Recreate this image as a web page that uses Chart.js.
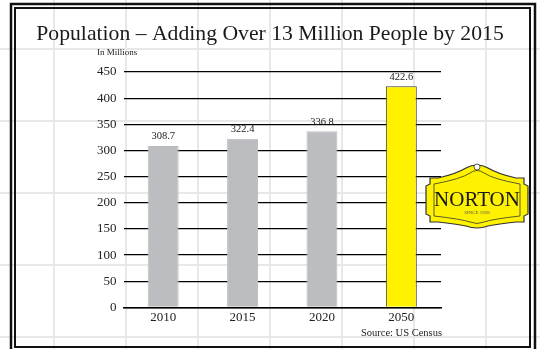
<!DOCTYPE html>
<html>
<head>
<meta charset="utf-8">
<script src="https://cdn.jsdelivr.net/npm/chart.js@4/dist/chart.umd.min.js"></script>
<style>
html,body{margin:0;padding:0;background:#fff;}
#wrap{position:relative;width:540px;height:349px;}
canvas{display:block;}
</style>
</head>
<body>
<div id="wrap"><canvas id="c" width="540" height="349"></canvas></div>
<script>
const categories = ["2010", "2015", "2020", "2050"];
const population = [308.7, 322.4, 336.8, 422.6];
const valueLabels = ["308.7", "322.4", "336.8", "422.6"];
const barColors = ["#BCBDC0", "#BCBDC0", "#BCBDC0", "#FFF200"];
const barBorders = ["#BCBDC0", "#BCBDC0", "#BCBDC0", "#3a3a2a"];
const titleText = "Population \u2013 Adding Over 13 Million People by 2015";
const unitText = "In Millions";
const sourceText = "Source: US Census";

const SERIF = "'Liberation Serif', 'DejaVu Serif', serif";

const backdrop = {
  id: 'backdrop',
  beforeDraw(chart) {
    const ctx = chart.ctx;
    ctx.save();
    ctx.fillStyle = '#fff';
    ctx.fillRect(0, 0, chart.width, chart.height);
    ctx.strokeStyle = '#e8e8e8';
    ctx.lineWidth = 2;
    for (let x = 54; x < chart.width; x += 72) {
      ctx.beginPath(); ctx.moveTo(x, 0); ctx.lineTo(x, chart.height); ctx.stroke();
    }
    for (let y = 49; y < chart.height; y += 72) {
      ctx.beginPath(); ctx.moveTo(0, y); ctx.lineTo(chart.width, y); ctx.stroke();
    }
    ctx.restore();
  },
  afterDraw(chart) {
    const ctx = chart.ctx;
    ctx.save();
    ctx.strokeStyle = '#111';
    ctx.lineWidth = 2.5;
    ctx.strokeRect(11, 4, 524, 360);
    ctx.lineWidth = 2;
    ctx.strokeRect(15, 8, 515, 339);
    ctx.fillStyle = '#1a1a1a';
    ctx.textAlign = 'center';
    ctx.textBaseline = 'alphabetic';
    let size = 24;
    ctx.font = size + "px " + SERIF;
    const w = ctx.measureText(titleText).width;
    size = size * 468 / w;
    ctx.font = size.toFixed(1) + "px " + SERIF;
    ctx.fillText(titleText, 270, 40);
    ctx.fillStyle = '#222';
    ctx.font = "9px " + SERIF;
    ctx.textAlign = 'left';
    ctx.textBaseline = 'middle';
    ctx.fillText(unitText, 97, 53);
    ctx.font = "10.5px " + SERIF;
    ctx.textAlign = 'right';
    ctx.fillText(sourceText, 442, 333);
    const meta = chart.getDatasetMeta(0);
    ctx.font = "10.5px " + SERIF;
    ctx.textAlign = 'center';
    ctx.textBaseline = 'bottom';
    meta.data.forEach((bar, i) => {
      ctx.fillText(valueLabels[i], bar.x, bar.y - 4);
    });
    drawLogo(ctx);
    ctx.restore();
  }
};

function drawLogo(ctx) {
  ctx.save();
  const L = 426, R = 528, T = 172, B = 228;
  ctx.beginPath();
  ctx.moveTo(L + 4, T + 6);
  ctx.lineTo(L + 12, T + 6);
  ctx.quadraticCurveTo(L + 30, T + 2, 466, T - 4);
  ctx.quadraticCurveTo(477, T - 10, 488, T - 4);
  ctx.quadraticCurveTo(R - 30, T + 2, R - 12, T + 6);
  ctx.lineTo(R - 4, T + 6);
  ctx.lineTo(R - 4, T + 12);
  ctx.lineTo(R, T + 14);
  ctx.lineTo(R, B - 14);
  ctx.lineTo(R - 4, B - 12);
  ctx.lineTo(R - 4, B - 6);
  ctx.lineTo(R - 12, B - 6);
  ctx.quadraticCurveTo(R - 30, B - 4, 488, B - 2);
  ctx.quadraticCurveTo(477, B + 2, 466, B - 2);
  ctx.quadraticCurveTo(L + 30, B - 4, L + 12, B - 6);
  ctx.lineTo(L + 4, B - 6);
  ctx.lineTo(L + 4, B - 12);
  ctx.lineTo(L, B - 14);
  ctx.lineTo(L, T + 14);
  ctx.lineTo(L + 4, T + 12);
  ctx.closePath();
  ctx.fillStyle = '#FFF200';
  ctx.fill();
  ctx.strokeStyle = '#333';
  ctx.lineWidth = 1.2;
  ctx.stroke();
  ctx.beginPath();
  ctx.moveTo(L + 8, T + 12);
  ctx.quadraticCurveTo(L + 35, T + 7, 470, T + 1);
  ctx.quadraticCurveTo(477, T - 4, 484, T + 1);
  ctx.quadraticCurveTo(R - 35, T + 7, R - 8, T + 12);
  ctx.lineTo(R - 8, B - 12);
  ctx.quadraticCurveTo(R - 35, B - 9, 484, B - 6);
  ctx.quadraticCurveTo(477, B - 3, 470, B - 6);
  ctx.quadraticCurveTo(L + 35, B - 9, L + 8, B - 12);
  ctx.closePath();
  ctx.lineWidth = 0.8;
  ctx.stroke();
  ctx.beginPath();
  ctx.arc(477, T - 5, 3, 0, Math.PI * 2);
  ctx.fillStyle = '#fff';
  ctx.fill();
  ctx.stroke();
  ctx.fillStyle = '#1a1a1a';
  ctx.font = "21px " + SERIF;
  ctx.textAlign = 'center';
  ctx.textBaseline = 'alphabetic';
  ctx.fillText("NORTON", 477, 206);
  ctx.font = "5px " + SERIF;
  ctx.fillStyle = '#555';
  ctx.fillText("SINCE 1928", 477, 214);
  ctx.restore();
}

new Chart(document.getElementById('c'), {
  type: 'bar',
  data: {
    labels: categories,
    datasets: [{
      data: population,
      backgroundColor: barColors,
      borderColor: barBorders,
      borderWidth: 1,
      barPercentage: 0.39,
      categoryPercentage: 1.0
    }]
  },
  options: {
    responsive: false,
    animation: false,
    devicePixelRatio: 1,
    layout: { padding: { left: 90, right: 99, top: 72, bottom: 22 } },
    plugins: {
      legend: { display: false },
      tooltip: { enabled: false },
      title: { display: false }
    },
    scales: {
      x: {
        grid: { display: false, drawTicks: false },
        border: { display: true, color: '#000', width: 1.5 },
        ticks: { color: '#222', font: { family: SERIF, size: 13 }, padding: 2 }
      },
      y: {
        min: 0, max: 450,
        grid: { color: '#000', lineWidth: 1.2, drawTicks: false },
        border: { display: false },
        ticks: { stepSize: 50, color: '#222', font: { family: SERIF, size: 13 }, padding: 7 }
      }
    }
  },
  plugins: [backdrop]
});
</script>
</body>
</html>
